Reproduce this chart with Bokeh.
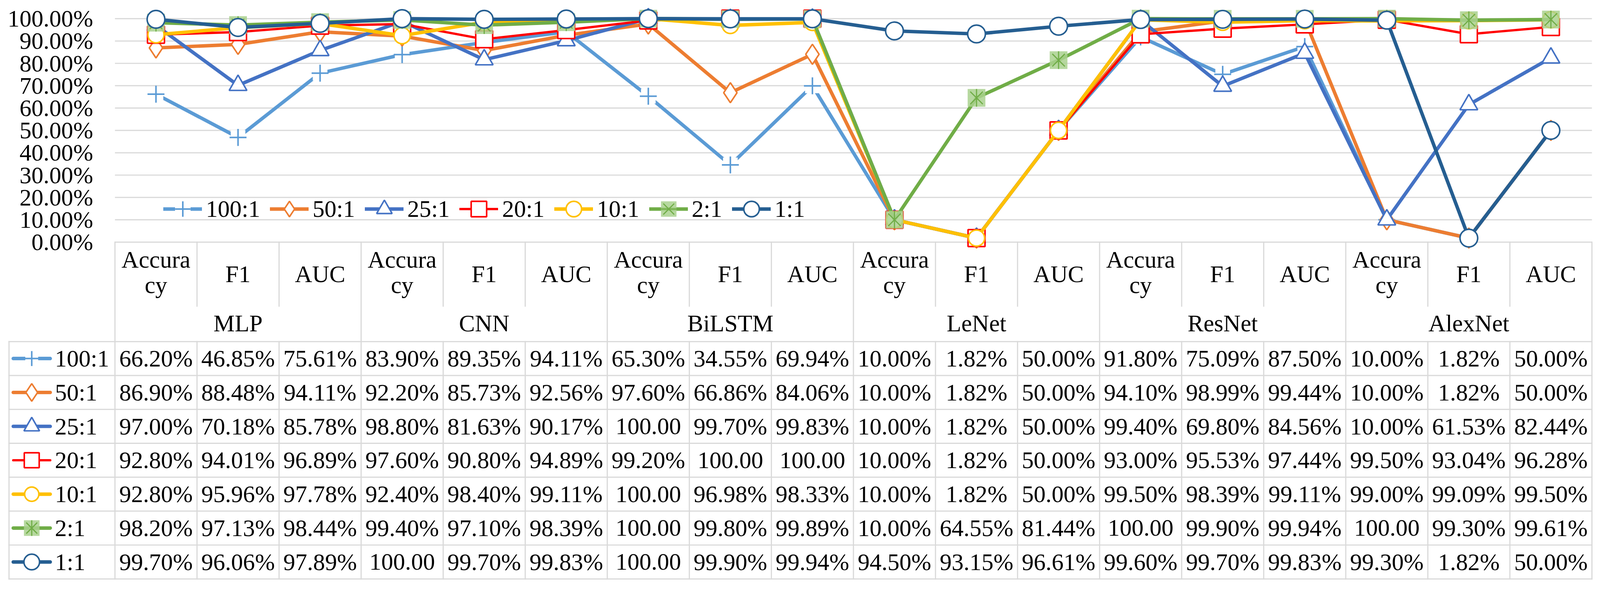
import math
from bokeh.plotting import figure
from bokeh.models import (ColumnDataSource, Range1d, FixedTicker, PrintfTickFormatter,
                          Legend, LegendItem)
from bokeh.embed import file_html
from bokeh.resources import INLINE
from bokeh.core.properties import value

# ---------------- data ----------------
models = ["MLP", "CNN", "BiLSTM", "LeNet", "ResNet", "AlexNet"]
metrics = ["Accuracy", "F1", "AUC"]
ratios = ["100:1", "50:1", "25:1", "20:1", "10:1", "2:1", "1:1"]
y_ticks = [0, 10, 20, 30, 40, 50, 60, 70, 80, 90, 100]

s100 = [66.20, 46.85, 75.61, 83.90, 89.35, 94.11, 65.30, 34.55, 69.94, 10.00, 1.82, 50.00, 91.80, 75.09, 87.50, 10.00, 1.82, 50.00]
s50 = [86.90, 88.48, 94.11, 92.20, 85.73, 92.56, 97.60, 66.86, 84.06, 10.00, 1.82, 50.00, 94.10, 98.99, 99.44, 10.00, 1.82, 50.00]
s25 = [97.00, 70.18, 85.78, 98.80, 81.63, 90.17, 100.00, 99.70, 99.83, 10.00, 1.82, 50.00, 99.40, 69.80, 84.56, 10.00, 61.53, 82.44]
s20 = [92.80, 94.01, 96.89, 97.60, 90.80, 94.89, 99.20, 100.00, 100.00, 10.00, 1.82, 50.00, 93.00, 95.53, 97.44, 99.50, 93.04, 96.28]
s10 = [92.80, 95.96, 97.78, 92.40, 98.40, 99.11, 100.00, 96.98, 98.33, 10.00, 1.82, 50.00, 99.50, 98.39, 99.11, 99.00, 99.09, 99.50]
s2 = [98.20, 97.13, 98.44, 99.40, 97.10, 98.39, 100.00, 99.80, 99.89, 10.00, 64.55, 81.44, 100.00, 99.90, 99.94, 100.00, 99.30, 99.61]
s1 = [99.70, 96.06, 97.89, 100.00, 99.70, 99.83, 100.00, 99.90, 99.94, 94.50, 93.15, 96.61, 99.60, 99.70, 99.83, 99.30, 1.82, 50.00]
series = [s100, s50, s25, s20, s10, s2, s1]

# ---------------- styles ----------------
colors = ["#5B9BD5", "#ED7D31", "#4472C4", "#FF0000", "#FFC000", "#70AD47", "#255E91"]
GRID = "#D9D9D9"
FONT = value("Liberation Serif")

ncat = len(models) * len(metrics)
nrow = len(ratios)
xc = [i + 0.5 for i in range(ncat)]

# ---------------- layout geometry ----------------
# positions are given in picture pixels; SC converts them to page (CSS) pixels
SC = 1 / 1.014
COLW = 213.0     # picture px per category column
ROW = 88.0       # picture px per table data row
PXP = 5.8        # picture px per percent
ZERO_PX = 636    # picture y of 0 %
ROW0_PX = 894    # picture y of the first data row
LEFT0_PX = 306   # picture x of the first category boundary
FIG_W, FIG_H = 4094, 1492          # page px
FIG_L, FIG_T = 8 / SC, 8 / SC      # picture px of the figure's corner
FIG_R, FIG_B = (8 + FIG_W) / SC, (8 + FIG_H) / SC


def px(v):
    """picture px size -> page px size"""
    return v * SC


def fs(v):
    return f"{v * SC:.1f}px"


def py(s):
    """picture y -> data y (percent units)"""
    return (ZERO_PX - s) / PXP


def row_y(r):
    return py(ROW0_PX + ROW * r)


def col_x(s):
    """picture x -> data x (category units)"""
    return (s - LEFT0_PX) / COLW


line_widths = [px(9), px(9), px(9), px(6), px(9), px(9), px(9)]
FS = fs(62)


def marker_specs(k, c):
    if k == 0:
        return [dict(marker="square", size=px(38), fill_color="white", line_color=None),
                dict(marker="cross", size=px(44), line_color=c, line_width=px(4))]
    if k == 1:
        return [dict(marker="diamond", size=px(52), fill_color="white", line_color=c, line_width=px(4))]
    if k == 2:
        return [dict(marker="triangle", size=px(46), fill_color="white", line_color=c, line_width=px(4))]
    if k == 3:
        return [dict(marker="square", size=px(44), fill_color="white", line_color=c, line_width=px(4))]
    if k == 4:
        return [dict(marker="circle", size=px(42), fill_color="white", line_color=c, line_width=px(4))]
    if k == 5:
        return [dict(marker="square", size=px(46), fill_color="#A9D18E", fill_alpha=0.85, line_color=None),
                dict(marker="x", size=px(46), line_color=c, line_width=px(3)),
                dict(marker="dash", size=px(46), angle=math.pi / 2, line_color=c, line_width=px(3))]
    return [dict(marker="circle", size=px(46), fill_color="white", line_color=c, line_width=px(4))]


p = figure(width=FIG_W, height=FIG_H, min_border=0,
           x_range=Range1d(col_x(FIG_L), col_x(FIG_R)), y_range=Range1d(py(FIG_B), py(FIG_T)),
           x_axis_type=None, toolbar_location=None, output_backend="svg")
p.outline_line_color = None
p.background_fill_color = "white"
p.border_fill_color = "white"
p.ygrid.grid_line_color = None
p.yaxis.fixed_location = 0
p.yaxis.ticker = FixedTicker(ticks=y_ticks)
p.yaxis.formatter = PrintfTickFormatter(format="%.2f%%")
p.yaxis.axis_line_color = None
p.yaxis.major_tick_line_color = None
p.yaxis.minor_tick_line_color = None
p.yaxis.major_tick_out = 0
p.yaxis.major_tick_in = 0
p.yaxis.major_label_standoff = int(round(px(57)))
p.yaxis.major_label_text_font = "Liberation Serif"
p.yaxis.major_label_text_font_size = FS
p.yaxis.major_label_text_color = "black"

# horizontal gridlines over the category span
p.segment(x0=[0] * len(y_ticks), y0=y_ticks, x1=[ncat] * len(y_ticks), y1=y_ticks,
          line_color=GRID, line_width=px(3))

# ---------------- data table lines ----------------
MODEL_TOP = py(802)
LEG_L = col_x(31)
x0s, y0s, x1s, y1s = [], [], [], []
for kx in range(ncat + 1):
    if kx % 3 == 0:
        x0s.append(kx); y0s.append(0); x1s.append(kx); y1s.append(row_y(nrow))
    else:
        x0s += [kx, kx]; y0s += [0, row_y(0)]; x1s += [kx, kx]; y1s += [MODEL_TOP, row_y(nrow)]
x0s.append(LEG_L); y0s.append(row_y(0)); x1s.append(LEG_L); y1s.append(row_y(nrow))
for j in range(nrow + 1):
    x0s.append(LEG_L); y0s.append(row_y(j)); x1s.append(ncat); y1s.append(row_y(j))
p.segment(x0=x0s, y0=y0s, x1=x1s, y1=y1s, line_color=GRID, line_width=px(3), line_cap="square")

# header texts (wrapped like the original)
hx, hy, ht = [], [], []
for gi, m in enumerate(models):
    for mi, met in enumerate(metrics):
        i = gi * 3 + mi
        if len(met) > 6:
            hx += [i + 0.5, i + 0.5]
            hy += [py(681), py(747)]
            ht += [met[:6], met[6:]]
        else:
            hx.append(i + 0.5); hy.append(py(719)); ht.append(met)
for gi, m in enumerate(models):
    hx.append(gi * 3 + 1.5); hy.append(py(847)); ht.append(m)
p.text(x="x", y="y", text="t", source=ColumnDataSource(dict(x=hx, y=hy, t=ht)),
       text_font=FONT, text_font_size=FS, text_align="center", text_baseline="middle",
       text_color="black")

# data cell texts
dx, dy, dt = [], [], []
for k, vals in enumerate(series):
    for i, v in enumerate(vals):
        dx.append(i + 0.5); dy.append(row_y(k + 0.5))
        dt.append("100.00" if v >= 100 else f"{v:.2f}%")
p.text(x="x", y="y", text="t", source=ColumnDataSource(dict(x=dx, y=dy, t=dt)),
       text_font=FONT, text_font_size=FS, text_align="center", text_baseline="middle",
       text_color="black")

# legend keys in the table
key_x0, key_x1, key_xm = col_x(42), col_x(138), col_x(90)
lab_x = col_x(150)
for k in range(nrow):
    c = colors[k]
    yk = row_y(k + 0.5)
    p.segment(x0=[key_x0], y0=[yk], x1=[key_x1], y1=[yk], line_color=c,
              line_width=line_widths[k], line_cap="round")
    ksrc = ColumnDataSource(dict(x=[key_xm], y=[yk]))
    for spec in marker_specs(k, c):
        spec = dict(spec)
        spec["size"] = spec["size"] * 0.88
        p.scatter("x", "y", source=ksrc, **spec)
p.text(x=[lab_x] * nrow, y=[row_y(k + 0.5) for k in range(nrow)], text=ratios,
       text_font=FONT, text_font_size=FS, text_align="left", text_baseline="middle",
       text_color="black")

# ---------------- series ----------------
items = []
for k, vals in enumerate(series):
    c = colors[k]
    src = ColumnDataSource(dict(x=xc, y=vals))
    rl = p.line("x", "y", source=src, line_color=c, line_width=line_widths[k],
                line_join="round", line_cap="round")
    rs = [p.scatter("x", "y", source=src, **spec) for spec in marker_specs(k, c)]
    items.append(LegendItem(label=ratios[k], renderers=[rl] + rs))

gh = int(round(px(106)))
legend = Legend(items=items, orientation="horizontal",
                location=(int(round(px(432) - 8)), int(round(8 + FIG_H - px(550) - gh / 2))),
                glyph_width=int(round(px(100))), glyph_height=gh, label_height=int(round(px(50))),
                label_standoff=int(round(px(10))), spacing=int(round(px(25))),
                padding=0, margin=0, border_line_color=None,
                background_fill_alpha=0, label_text_font="Liberation Serif",
                label_text_font_size=FS, label_text_color="black")
p.add_layout(legend)

open("out.html", "w").write(file_html(p, INLINE))
